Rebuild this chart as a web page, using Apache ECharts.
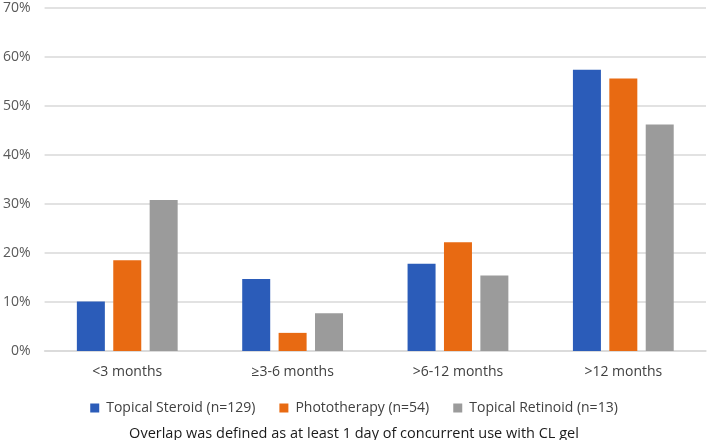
<!DOCTYPE html>
<html>
<head>
<meta charset="utf-8">
<script src="https://cdn.jsdelivr.net/npm/echarts@6/dist/echarts.min.js"></script>
<style>
  html, body { margin: 0; padding: 0; background: #fff; }
  #main { width: 708px; height: 440px; }
</style>
</head>
<body>
<div id="main"></div>
<script>
// data (shares in %)
const categories = ['<3 months', '≥3-6 months', '>6-12 months', '>12 months'];
const steroid = [10.1, 14.7, 17.8, 57.4];
const phototherapy = [18.5, 3.7, 22.2, 55.6];
const retinoid = [30.8, 7.7, 15.4, 46.2];
const seriesNames = ['Topical Steroid (n=129)', 'Phototherapy (n=54)', 'Topical Retinoid (n=13)'];
const footnote = 'Overlap was defined as at least 1 day of concurrent use with CL gel';

const font = '"Open Sans", "Noto Sans", sans-serif';

let myChart = echarts.init(document.getElementById('main'));
myChart.setOption({
  animation: false,
  color: ['#2b5cb9', '#e86a12', '#9b9b9b'],
  title: {
    text: footnote,
    left: 'center',
    top: 421,
    textStyle: { fontFamily: font, fontSize: 14.5, fontWeight: 'normal', color: '#1a1a1a' }
  },
  legend: {
    data: seriesNames,
    top: 396,
    left: 'center',
    icon: 'rect',
    itemWidth: 9,
    itemHeight: 9,
    itemGap: 24,
    textStyle: { fontFamily: font, fontSize: 14, color: '#404040', padding: [0, 0, 0, 2] }
  },
  grid: { left: 43, right: 2, top: 8, bottom: 89, containLabel: false },
  xAxis: {
    type: 'category',
    data: categories,
    axisLine: { lineStyle: { color: '#d9d9d9', width: 1.5 } },
    axisTick: { show: false },
    axisLabel: { fontFamily: font, fontSize: 14, color: '#404040', margin: 14 }
  },
  yAxis: {
    type: 'value',
    min: 0,
    max: 70,
    interval: 10,
    axisLine: { show: false },
    axisTick: { show: false },
    splitLine: { lineStyle: { color: '#d9d9d9', width: 1.5 } },
    axisLabel: {
      formatter: '{value}%',
      fontFamily: font, fontSize: 14, color: '#595959', margin: 14
    }
  },
  series: [
    { name: seriesNames[0], type: 'bar', data: steroid, barWidth: 28, barGap: '30%' },
    { name: seriesNames[1], type: 'bar', data: phototherapy, barWidth: 28, barGap: '30%' },
    { name: seriesNames[2], type: 'bar', data: retinoid, barWidth: 28, barGap: '30%' }
  ]
});
</script>
</body>
</html>
